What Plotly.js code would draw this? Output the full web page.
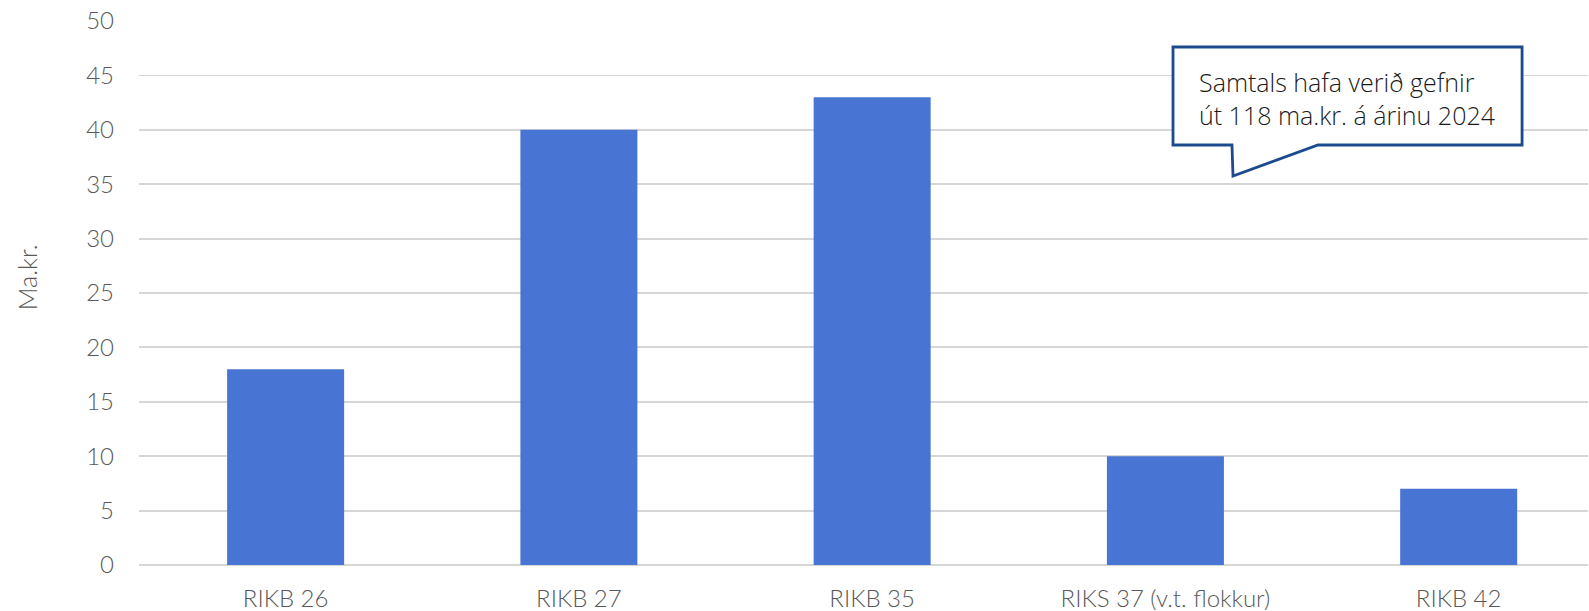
<!DOCTYPE html>
<html>
<head>
<meta charset="utf-8">
<script src="https://cdn.plot.ly/plotly-3.0.1.min.js"></script>
<style>html,body{margin:0;padding:0;background:#fff;}#chart{width:1589px;height:611px;}</style>
</head>
<body>
<div id="chart"></div>
<script>
const categories = ["RIKB 26", "RIKB 27", "RIKB 35", "RIKS 37 (v.t. flokkur)", "RIKB 42"];
const values = [18, 40, 43, 10, 7];
const yTicks = [0, 5, 10, 15, 20, 25, 30, 35, 40, 45, 50];
const yTitle = "Ma.kr.";
const calloutLines = ["Samtals hafa verið gefnir", "út 118 ma.kr. á árinu 2024"];

const fontFam = "Lato, 'Open Sans', sans-serif";
const grey = "#595959";

const data = [{
  type: "bar",
  x: categories,
  y: values,
  marker: {color: "#4875D3"},
  hoverinfo: "x+y"
}];

const layout = {
  width: 1589, height: 611,
  margin: {l: 139, r: 1, t: 21, b: 46},
  paper_bgcolor: "#fff", plot_bgcolor: "#fff",
  bargap: 0.601,
  showlegend: false,
  font: {family: fontFam, color: grey, size: 24, weight: 300},
  xaxis: {
    type: "category",
    range: [-0.5, 4.441],
    showgrid: false, showline: false, zeroline: false,
    ticks: "", tickfont: {size: 24, color: grey, family: fontFam, weight: 300},
    ticklabelstandoff: 17
  },
  yaxis: {
    range: [0, 50], tickvals: yTicks, ticktext: yTicks.map(String),
    showgrid: true, gridcolor: "#d6d6d6", gridwidth: 1.8,
    zeroline: true, zerolinecolor: "#d6d6d6", zerolinewidth: 2.2,
    showline: false, ticks: "",
    tickfont: {size: 24, color: grey, family: fontFam, weight: 300},
    ticklabelstandoff: 24
  },
  shapes: [{
    type: "path", xref: "paper", yref: "paper",
    path: "M 0.7136,0.9522 L 0.9545,0.9522 L 0.9545,0.7721 L 0.8137,0.7721 L 0.7550,0.7151 L 0.7543,0.7721 L 0.7136,0.7721 Z",
    line: {color: "#1B4A8D", width: 2.8},
    fillcolor: "#ffffff"
  }],
  annotations: [
    {
      text: calloutLines.join("<br>"), xref: "paper", yref: "paper",
      x: 0.834, y: 0.858, xanchor: "center", yanchor: "middle",
      showarrow: false, align: "left",
      font: {family: "'Open Sans', sans-serif", size: 25, color: "#1a1a1a", weight: 300}
    },
    {
      text: yTitle, xref: "paper", yref: "paper",
      x: -0.0773, y: 0.529, xanchor: "center", yanchor: "middle",
      textangle: -90, showarrow: false,
      font: {family: fontFam, size: 25, color: grey, weight: 300}
    }
  ]
};

Plotly.newPlot("chart", data, layout, {displayModeBar: false, staticPlot: true});
</script>
</body>
</html>
